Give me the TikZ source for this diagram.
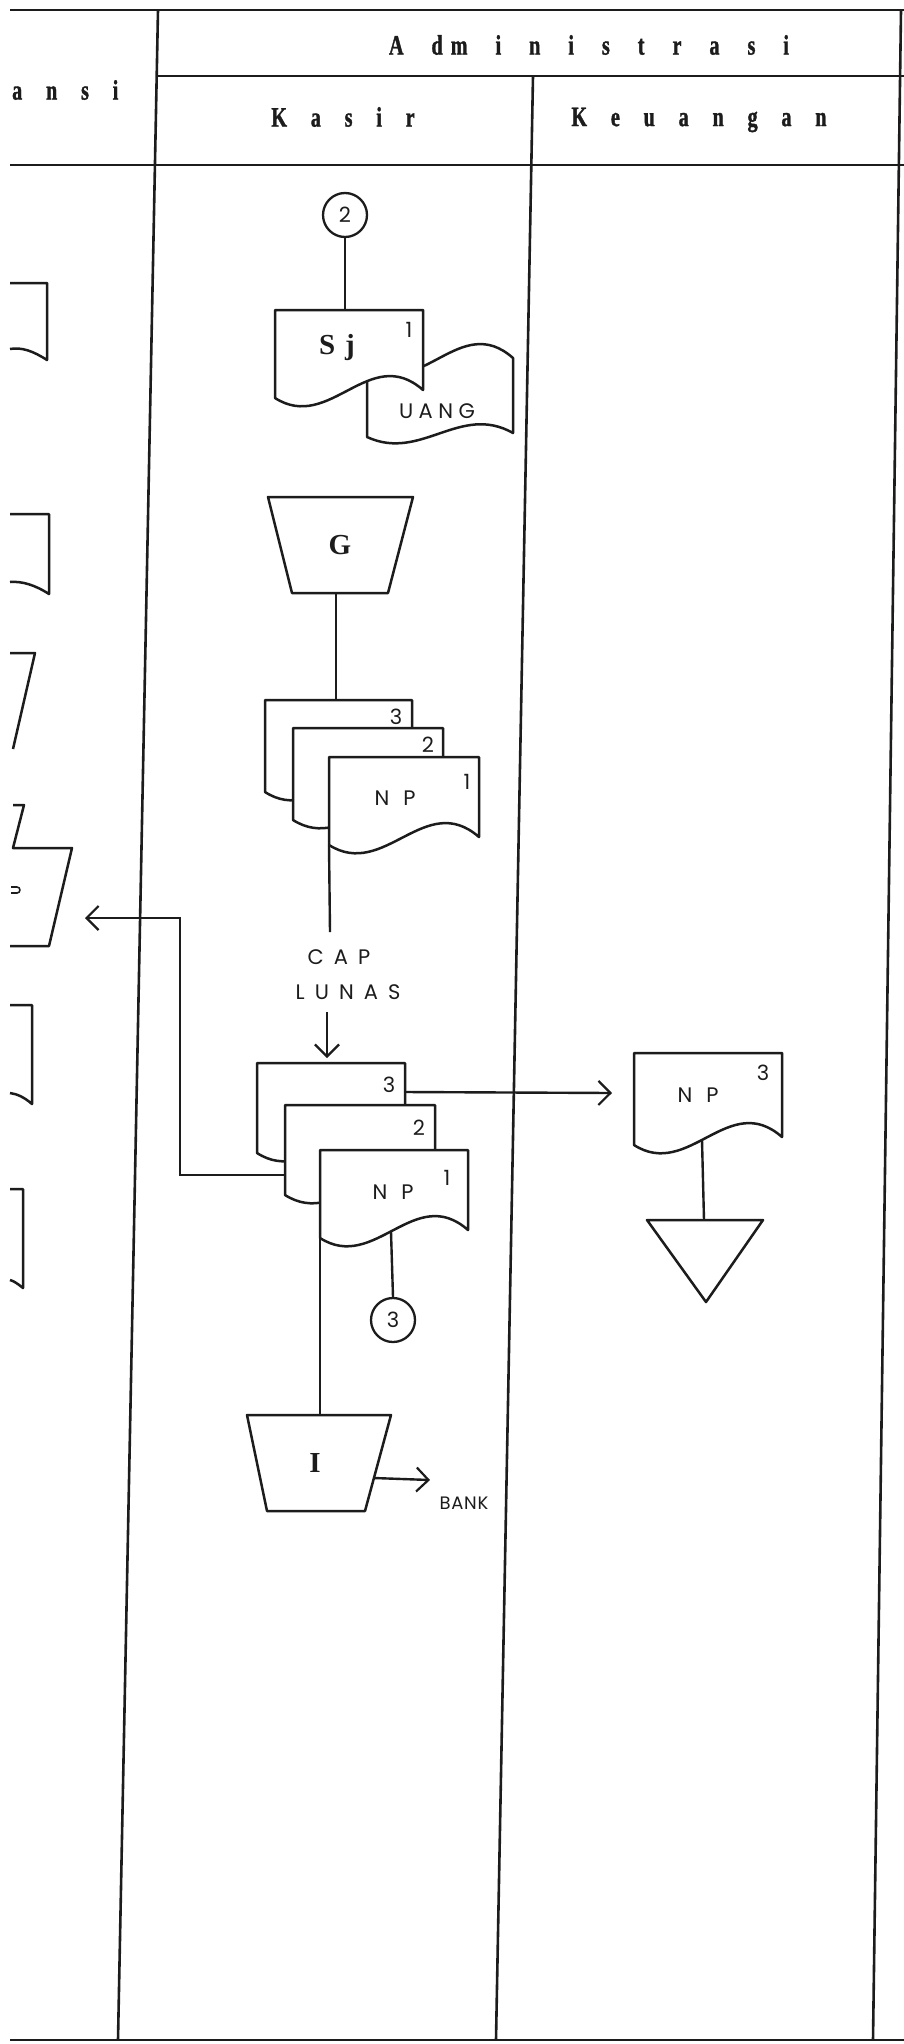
\documentclass[tikz,border=0pt]{standalone}
\usepackage{fontspec}
\setmainfont{Liberation Serif}
\newfontfamily\hdrfont[FakeStretch=0.72,FakeBold=1.2,LetterSpace=85]{Liberation Serif}
\newfontfamily\hdrwide[FakeStretch=0.72,FakeBold=1.2,LetterSpace=100]{Liberation Serif}
\newfontfamily\lblfont{Poppins}
\usetikzlibrary{arrows.meta,calc}
\pgfdeclarelayer{bg}
\pgfsetlayers{bg,main}
\definecolor{ink}{HTML}{1C1C1C}
\tikzset{
  shp/.style={draw=ink, line width=2.5pt, fill=white, line join=round},
  open/.style={draw=ink, line width=2.5pt, line join=round},
  conn/.style={draw=ink, line width=2.4pt},
  arr/.style={conn, -{Straight Barb[length=12pt,width=24pt,line width=2.2pt]}},
  grid/.style={draw=ink, line width=2.6pt},
  hdr/.style={font=\hdrfont\bfseries\fontsize{28}{28}\selectfont, inner sep=0pt, text=ink},
  lbl/.style={font=\lblfont\fontsize{21}{21}\selectfont, inner sep=0pt, text=ink},
  big/.style={font=\bfseries\fontsize{29}{29}\selectfont, inner sep=0pt, text=ink},
  circ/.style={circle, draw=ink, line width=2.3pt, minimum size=44pt, inner sep=0pt, fill=white,
    font=\lblfont\fontsize{21}{21}\selectfont, text=ink}
}
% document symbol: name, x, y, width, left height
\newcommand{\docu}[5]{%
  \coordinate (#1-tl) at (#2,#3);
  \coordinate (#1-tr) at ($(#1-tl)+(#4,0)$);
  \coordinate (#1-bl) at ($(#1-tl)+(0,#5)$);
  \coordinate (#1-br) at ($(#1-tl)+(#4,#5-8)$);
  \draw[shp] (#1-tl) -- (#1-tr) -- (#1-br)
    .. controls +(-0.36*#4,-47) and +(0.37*#4,35) .. (#1-bl) -- cycle;
}
\begin{document}
\begin{tikzpicture}[x=1pt,y=-1pt]
\useasboundingbox (0,0) rectangle (904,2044);

% ---------- swimlane grid ----------
\coordinate (g-tl) at (10,10);
\coordinate (g-tr) at (904,10);
\draw[grid] (g-tl) -- (g-tr);
\draw[grid] (158,76) -- (904,76);
\draw[grid] (10,165) -- (904,165);
\draw[grid] (10,2040) -- (904,2040);
\draw[grid] (158,10) -- (118,2040);
\draw[grid] (533,76) -- (496,2040);
\draw[grid] (901,10) -- (873,2040);

% ---------- headers ----------
\node[hdr, font=\hdrwide\bfseries\fontsize{28}{28}\selectfont] (h-adm) at (589,45) {Ad\hspace{8pt}ministrasi};
\node[hdr, anchor=west] (h-ansi) at (12,90) {ansi};
\node[hdr] (h-kasir) at (343,117) {Kasir};
\node[hdr] (h-keu) at (699,120) {Keuangan};

% ---------- left (cut-off) lane ----------
\draw[open] (10,283) -- (47,283) -- (47,360) .. controls (33,351) and (22,347) .. (10,349);
\draw[open] (10,514) -- (49,514) -- (49,594) .. controls (35,585) and (22,581) .. (10,582);
\draw[open] (10,653) -- (35,653) -- (13,749);
\draw[open] (13,805) -- (24,805) -- (13,848) -- (72,848) -- (49,946) -- (10,946);
\draw[open, line width=1.6pt] (11,887) -- (17,887) arc[start angle=-90,end angle=90,radius=3] -- (11,893);
\draw[open] (10,1005) -- (32,1005) -- (32,1104) .. controls (24,1097) and (17,1094) .. (10,1093);
\draw[open] (10,1189) -- (23,1189) -- (23,1288) .. controls (18,1284) and (14,1281) .. (10,1280);
\coordinate (lp) at (85,918);

% ---------- Kasir lane ----------
\node[circ] (c2) at (345,215) {2};

% UANG (behind Sj)
\draw[shp] (367,366) .. controls +(54,35) and +(-53,-47) .. (513,358) -- (513,433)
   .. controls +(-53,-30) and +(54,25) .. (367,437) -- cycle;
\node[lbl, font=\lblfont\fontsize{21}{21}\selectfont\addfontfeatures{LetterSpace=26}] (uang) at (437,411) {UANG};
\docu{sj}{275}{310}{148}{88}
\node[big] (sj-t) at (337,348) {S\hspace{10pt}j};
\node[lbl] (sj-n) at (409,330) {1};

% G manual operation
\coordinate (g-tl) at (268,497);
\coordinate (g-tr) at (413,497);
\coordinate (g-br) at (388,593);
\coordinate (g-bl) at (292,593);
\draw[shp] (g-tl) -- (g-tr) -- (g-br) -- (g-bl) -- cycle;
\node[big] (g-t) at (340,545) {G};
\coordinate (g-b) at (336,593);

% stack 1
\docu{s1b}{265}{700}{147}{92}
\node[lbl] (s1b-n) at (396,717) {3};
\docu{s1m}{293}{728}{150}{92}
\node[lbl] (s1m-n) at (428,745) {2};
\docu{s1f}{329}{757}{150}{88}
\node[lbl] (s1f-t) at (395,798) {N\hspace{14pt}P};
\node[lbl] (s1f-n) at (467,782) {1};

% CAP LUNAS
\coordinate (cap-top) at (330,932);
\node[lbl, font=\lblfont\fontsize{21}{21}\selectfont\addfontfeatures{LetterSpace=48}] (cap) at (339,957) {CAP};
\node[lbl, font=\lblfont\fontsize{21}{21}\selectfont\addfontfeatures{LetterSpace=48}] (lunas) at (348,992) {LUNAS};
\coordinate (cap-bot) at (327,1012);

% stack 2
\docu{s2b}{257}{1063}{148}{90}
\node[lbl] (s2b-n) at (389,1085) {3};
\docu{s2m}{285}{1105}{150}{90}
\node[lbl] (s2m-n) at (419,1128) {2};
\docu{s2f}{320}{1150}{148}{88}
\node[lbl] (s2f-t) at (393,1192) {N\hspace{14pt}P};
\node[lbl] (s2f-n) at (447,1178) {1};
\coordinate (s2b-r) at (405,1092);
\coordinate (s2m-l) at (285,1175);
\coordinate (turn) at (180,918);
\coordinate (s2f-c3) at (391,1232);

\node[circ] (c3) at (393,1320) {3};

% I manual operation
\coordinate (i-tl) at (247,1415);
\coordinate (i-tr) at (391,1415);
\coordinate (i-br) at (365,1511);
\coordinate (i-bl) at (267,1511);
\draw[shp] (i-tl) -- (i-tr) -- (i-br) -- (i-bl) -- cycle;
\node[big] (i-t) at (315,1463) {I};
\coordinate (i-top) at (320,1415);
\coordinate (i-r) at (374,1478);
\coordinate (bank-arr) at (430,1480);
\node[lbl, font=\lblfont\fontsize{18}{18}\selectfont\addfontfeatures{LetterSpace=4}] (bank) at (464,1503) {BANK};

% ---------- Keuangan lane ----------
\docu{keu}{634}{1053}{148}{92}
\node[lbl] (keu-t) at (698,1095) {N\hspace{14pt}P};
\node[lbl] (keu-n) at (763,1073) {3};
\coordinate (keu-in) at (612,1093);
\coordinate (keu-b) at (702,1140);
\coordinate (tri-t) at (704,1220);
\coordinate (tri-l) at (647,1220);
\coordinate (tri-r) at (763,1220);
\coordinate (tri-a) at (706,1302);
\draw[shp] (tri-l) -- (tri-r) -- (tri-a) -- cycle;

% ---------- connectors (behind shapes) ----------
\begin{pgfonlayer}{bg}
\fill[white] (0,0) rectangle (904,2044);
\draw[conn] (c2.south) -- (c2.south |- sj-tl);
\draw[conn] (g-b) -- (g-b |- s1b-tl);
\draw[conn] (s1f-bl) -- (cap-top);
\draw[arr] (cap-bot) -- ($(cap-bot |- s2b-tl)+(0,-5)$);
\draw[arr] (s2b-r) -- (keu-in);
\draw[arr] (s2m-l) -| (turn) -- (lp);
\draw[conn] (s2f-c3) -- (c3.north);
\draw[conn] (s2f-bl) -- (i-top);
\draw[arr] (i-r) -- (bank-arr);
\draw[conn] (keu-b) -- (tri-t);
\end{pgfonlayer}
\end{tikzpicture}
\end{document}
